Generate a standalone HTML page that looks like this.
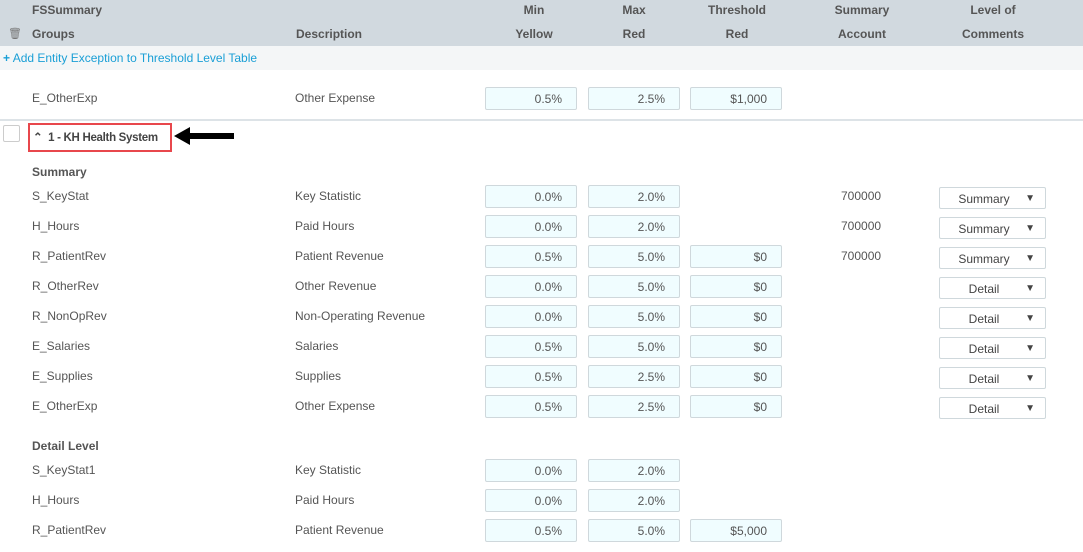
<!DOCTYPE html>
<html><head><style>
body{margin:0;width:1083px;height:552px;overflow:hidden;background:#fff;font-family:"Liberation Sans",sans-serif;font-size:12px;color:#555;position:relative}
.a{position:absolute;white-space:nowrap}
.h{font-weight:bold;color:#555;text-align:center}
.in{position:absolute;height:23px;width:92px;border:1px solid #cfd8dc;border-radius:2px;background:#f0fdff;text-align:right;box-sizing:border-box;padding-right:14px;line-height:22px;color:#555}
.dd{position:absolute;left:939px;width:107px;height:22px;border:1px solid #cfd8dc;border-radius:2px;box-sizing:border-box;line-height:22px;color:#444;background:#fff}
.dd span{position:absolute;left:0;width:88px;text-align:center}
.dd i{position:absolute;right:10px;font-style:normal;font-size:10px}
</style></head><body>
<div class="a" style="left:0;top:0;width:1083px;height:46px;background:#d1d9df"></div>
<div class="a h" style="left:32px;top:3px;text-align:left">FSSummary</div>
<div class="a h" style="left:32px;top:27px;text-align:left">Groups</div>
<div class="a" style="left:8px;top:27px;font-size:11px;color:#777">🗑</div>
<div class="a h" style="left:296px;top:27px;text-align:left">Description</div>
<div class="a h" style="left:494px;top:3px;width:80px">Min</div><div class="a h" style="left:494px;top:27px;width:80px">Yellow</div>
<div class="a h" style="left:594px;top:3px;width:80px">Max</div><div class="a h" style="left:594px;top:27px;width:80px">Red</div>
<div class="a h" style="left:697px;top:3px;width:80px">Threshold</div><div class="a h" style="left:697px;top:27px;width:80px">Red</div>
<div class="a h" style="left:822px;top:3px;width:80px">Summary</div><div class="a h" style="left:822px;top:27px;width:80px">Account</div>
<div class="a h" style="left:953px;top:3px;width:80px">Level of</div><div class="a h" style="left:953px;top:27px;width:80px">Comments</div>
<div class="a" style="left:0;top:46px;width:1083px;height:24px;background:#f4f6f7"></div>
<div class="a" style="left:3px;top:51px;color:#1a9fd6"><b>+</b> Add Entity Exception to Threshold Level Table</div>
<div class="a" style="left:32px;top:91px">E_OtherExp</div><div class="a" style="left:295px;top:91px">Other Expense</div>
<div class="in" style="left:485px;top:87px">0.5%</div><div class="in" style="left:588px;top:87px">2.5%</div><div class="in" style="left:690px;top:87px">$1,000</div>
<div class="a" style="left:0;top:119px;width:1083px;height:2px;background:#dde3e7"></div>
<div class="a" style="left:3px;top:125px;width:15px;height:15px;border:1px solid #ccc;border-radius:2px"></div>
<div class="a" style="left:28px;top:123px;width:140px;height:25px;border:2px solid #e8474c"></div>
<div class="a" style="left:33px;top:130px;font-weight:bold;color:#444;font-size:11.5px;letter-spacing:-0.3px">&#8963;&nbsp; 1 - KH Health System</div>
<svg class="a" style="left:174px;top:127px" width="62" height="18"><polygon points="0,9 16,0 16,6 60,6 60,12 16,12 16,18" fill="#000"/></svg>
<div class="a" style="left:32px;top:165px;font-weight:bold">Summary</div>
<div class="a" style="left:32px;top:439px;font-weight:bold">Detail Level</div>
<div id="rows"></div>
<script>
var R=[[189,"S_KeyStat","Key Statistic","0.0%","2.0%","","700000","Summary"],
[219,"H_Hours","Paid Hours","0.0%","2.0%","","700000","Summary"],
[249,"R_PatientRev","Patient Revenue","0.5%","5.0%","$0","700000","Summary"],
[279,"R_OtherRev","Other Revenue","0.0%","5.0%","$0","","Detail"],
[309,"R_NonOpRev","Non-Operating Revenue","0.0%","5.0%","$0","","Detail"],
[339,"E_Salaries","Salaries","0.5%","5.0%","$0","","Detail"],
[369,"E_Supplies","Supplies","0.5%","2.5%","$0","","Detail"],
[399,"E_OtherExp","Other Expense","0.5%","2.5%","$0","","Detail"],
[463,"S_KeyStat1","Key Statistic","0.0%","2.0%","","",""],
[493,"H_Hours","Paid Hours","0.0%","2.0%","","",""],
[523,"R_PatientRev","Patient Revenue","0.5%","5.0%","$5,000","",""]];
var h="";R.forEach(function(r){var y=r[0];
h+='<div class="a" style="left:32px;top:'+y+'px">'+r[1]+'</div><div class="a" style="left:295px;top:'+y+'px">'+r[2]+'</div>';
h+='<div class="in" style="left:485px;top:'+(y-4)+'px">'+r[3]+'</div><div class="in" style="left:588px;top:'+(y-4)+'px">'+r[4]+'</div>';
if(r[5])h+='<div class="in" style="left:690px;top:'+(y-4)+'px">'+r[5]+'</div>';
if(r[6])h+='<div class="a" style="left:841px;top:'+y+'px">'+r[6]+'</div>';
if(r[7])h+='<div class="dd" style="top:'+(y-2)+'px"><span>'+r[7]+'</span><i>&#9660;</i></div>';});
document.getElementById("rows").innerHTML=h;
</script>
</body></html>
